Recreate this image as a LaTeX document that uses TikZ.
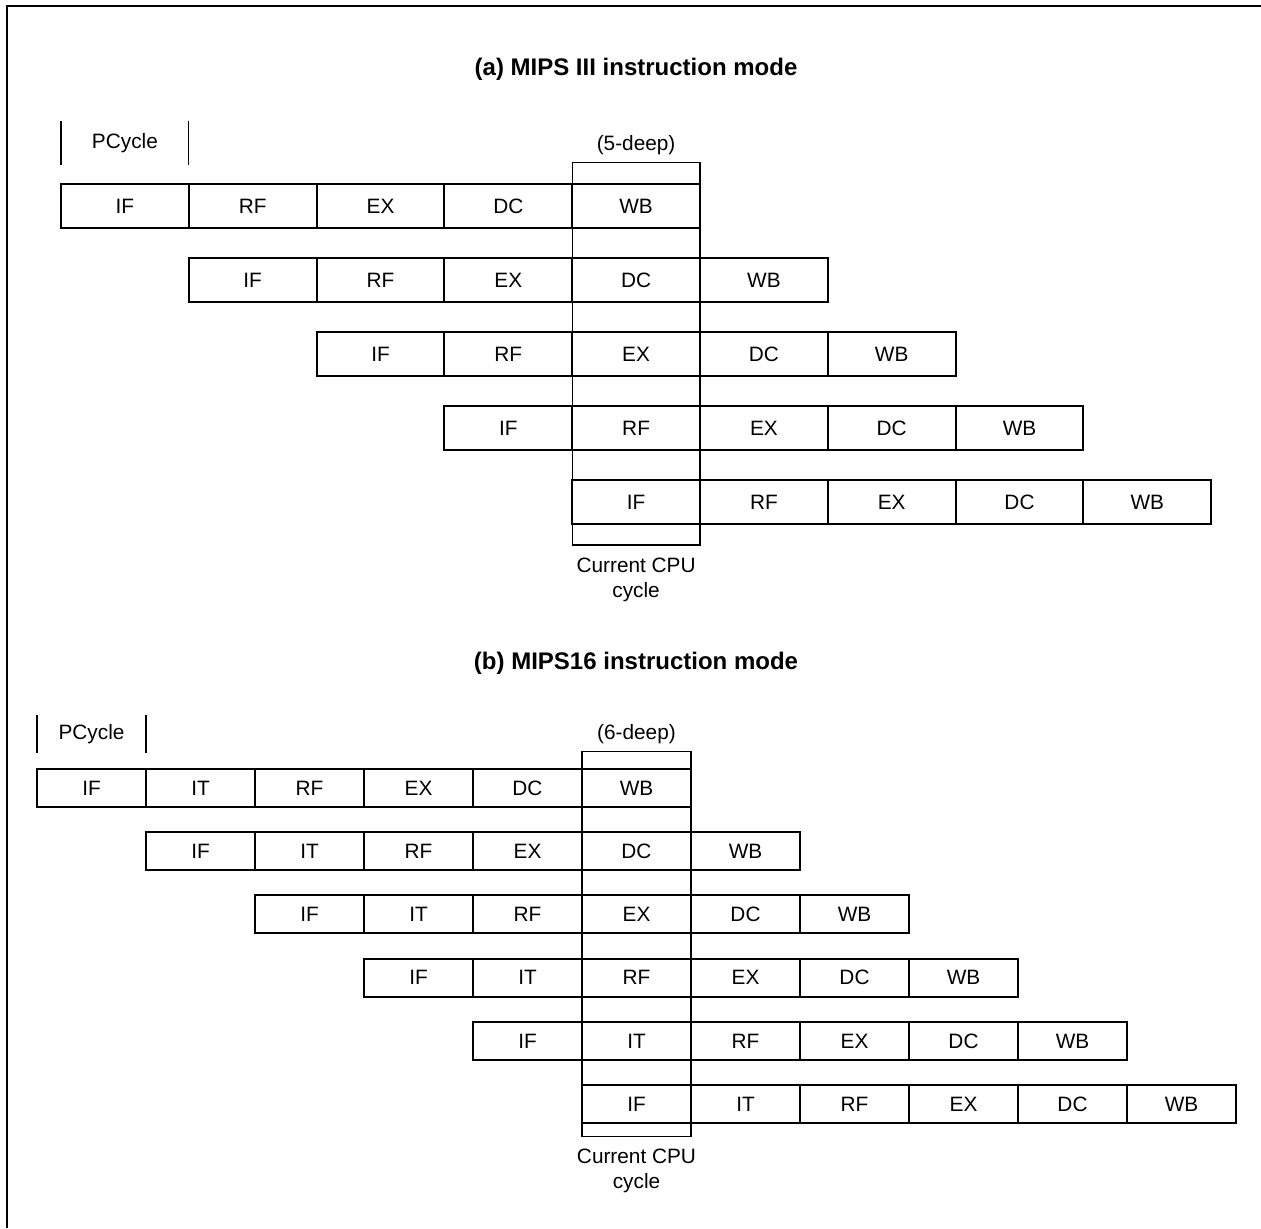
\documentclass[tikz,border=0pt]{standalone}
\usepackage{fontspec}
\setmainfont{Liberation Sans}
\usetikzlibrary{matrix,positioning,fit}

\begin{document}
\begin{tikzpicture}[x=0.5pt, y=-0.5pt,
  every node/.style={font=\fontsize{10.4}{12.5}\selectfont},
  stage/.style={draw, line width=1pt, inner sep=0pt},
  hlbox/.style={draw, line width=0.55pt, inner sep=0pt},
  bar/.style={line width=0.55pt},
  title/.style={font=\fontsize{12}{14}\selectfont\bfseries}]
  \useasboundingbox (0,0) rectangle (1261,1228);
  \draw[line width=1pt] (6.5,1228) |- (1261,5.5);

  % (a) MIPS III
  \node[title] (titlea) at (636,69) {(a) MIPS III instruction mode};
  \matrix (ma) [matrix of nodes, anchor=north west, inner sep=0pt, outer sep=0pt,
    column sep=-1pt, row sep=14pt,
    nodes={stage, minimum width=63.9pt, minimum height=22pt}] at (60,183)
  {
IF & RF & EX & DC & WB \\
   & IF & RF & EX & DC & WB \\
   &    & IF & RF & EX & DC & WB \\
   &    &    & IF & RF & EX & DC & WB \\
   &    &    &    & IF & RF & EX & DC & WB \\
};
  \coordinate (hlatop) at ([yshift=10.8pt]ma-1-5.north west);
  \coordinate (hlabot) at ([yshift=-10.5pt]ma-5-5.south east);
  \node[hlbox, fit=(hlatop)(hlabot)] (hla) {};
  \node[above=0pt of hla] (deepa) {(5-deep)};
  \node[below=2.5pt of hla, align=center] (cura) {Current CPU\\cycle};
  \node[above=9.5pt of ma-1-1, minimum height=21.5pt, inner sep=0pt] (pca) {PCycle};
  \draw[bar] (pca.north -| ma-1-1.west) -- (pca.south -| ma-1-1.west);
  \draw[bar] (pca.north -| ma-1-1.east) -- (pca.south -| ma-1-1.east);

  % (b) MIPS16
  \node[title] (titleb) at (636,663) {(b) MIPS16 instruction mode};
  \matrix (mb) [matrix of nodes, anchor=north west, inner sep=0pt, outer sep=0pt,
    column sep=-1pt, row sep=11.6pt,
    nodes={stage, minimum width=54.5pt, minimum height=19pt}] at (36,768)
  {
IF & IT & RF & EX & DC & WB \\
   & IF & IT & RF & EX & DC & WB \\
   &    & IF & IT & RF & EX & DC & WB \\
   &    &    & IF & IT & RF & EX & DC & WB \\
   &    &    &    & IF & IT & RF & EX & DC & WB \\
   &    &    &    &    & IF & IT & RF & EX & DC & WB \\
};
  \coordinate (hlbtop) at ([yshift=8.65pt]mb-1-6.north west);
  \coordinate (hlbbot) at ([yshift=-6.65pt]mb-6-6.south east);
  \node[hlbox, fit=(hlbtop)(hlbbot)] (hlb) {};
  \node[above=0pt of hlb] (deepb) {(6-deep)};
  \node[below=2.5pt of hlb, align=center] (curb) {Current CPU\\cycle};
  \node[above=8pt of mb-1-1, minimum height=18.5pt, inner sep=0pt] (pcb) {PCycle};
  \draw[bar] (pcb.north -| mb-1-1.west) -- (pcb.south -| mb-1-1.west);
  \draw[bar] (pcb.north -| mb-1-1.east) -- (pcb.south -| mb-1-1.east);
\end{tikzpicture}
\end{document}
